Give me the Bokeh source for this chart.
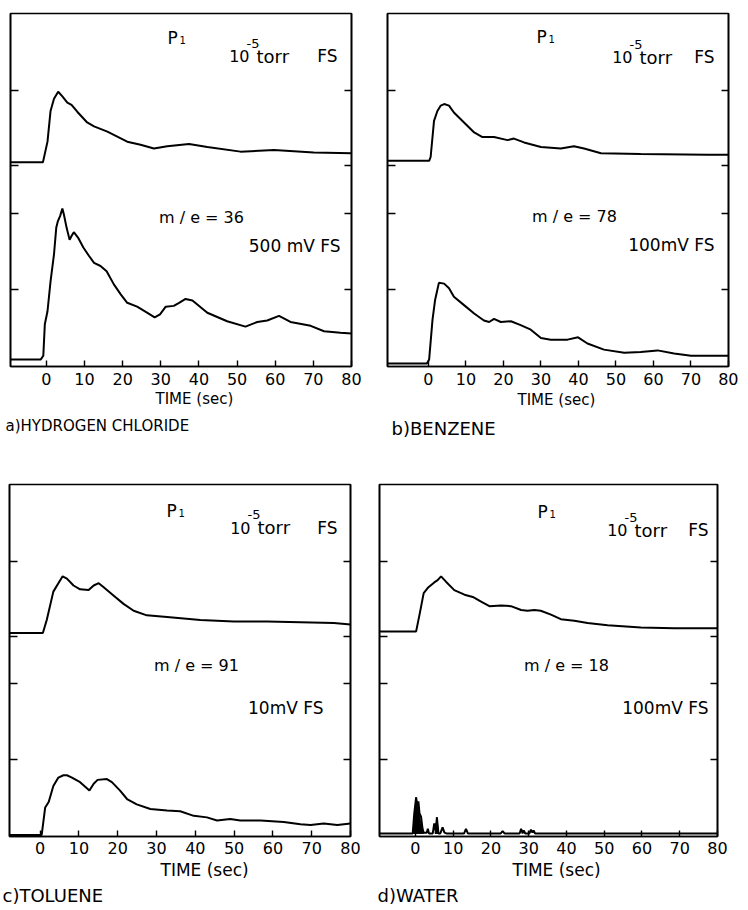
from bokeh.plotting import figure
from bokeh.models import Range1d, LinearAxis, FixedTicker, Label, Title
from bokeh.layouts import column, row
from bokeh.embed import file_html
from bokeh.resources import INLINE

FONT = "DejaVu Sans"

# ---------------- data (time in s, signal in chart divisions) ----------------
TIME_TICKS = [0, 10, 20, 30, 40, 50, 60, 70, 80]
SIGNAL_TICKS = [1.0, 2.0, 2.62, 3.6]

# a) hydrogen chloride
A_UP_T = [-9.4, -0.9, 0.3, 1.1, 2.0, 3.1, 4.2, 5.5, 6.6, 8.1, 10.7, 12.5, 16.0, 21.2, 24.7, 28.2, 31.7, 37.4, 42.2, 50.9, 59.7, 70.1, 80.0]
A_UP_V = [2.66, 2.66, 2.93, 3.33, 3.49, 3.58, 3.52, 3.44, 3.41, 3.32, 3.18, 3.13, 3.06, 2.93, 2.89, 2.84, 2.87, 2.90, 2.86, 2.80, 2.82, 2.79, 2.78]
A_LO_T = [-9.4, -1.5, -0.8, -0.4, 0.3, 1.1, 2.0, 2.6, 3.0, 3.6, 4.2, 4.6, 5.3, 6.1, 6.6, 7.2, 8.3, 9.7, 11.2, 12.5, 14.2, 15.8, 17.7, 19.5, 21.2, 23.8, 26.5, 28.4, 29.8, 31.3, 33.4, 34.8, 36.5, 38.3, 42.2, 47.4, 52.2, 55.3, 57.9, 61.0, 64.0, 69.3, 72.8, 77.1, 80.0]
A_LO_V = [0.09, 0.09, 0.14, 0.55, 0.72, 1.11, 1.46, 1.81, 1.89, 1.96, 2.06, 1.98, 1.81, 1.65, 1.70, 1.75, 1.68, 1.55, 1.44, 1.35, 1.31, 1.24, 1.07, 0.94, 0.83, 0.78, 0.70, 0.64, 0.68, 0.78, 0.79, 0.83, 0.88, 0.86, 0.70, 0.59, 0.52, 0.58, 0.60, 0.66, 0.58, 0.53, 0.46, 0.44, 0.43]

# b) benzene
B_UP_T = [-10.9, 0.2, 0.6, 1.5, 2.4, 3.3, 4.2, 5.5, 6.8, 9.5, 12.2, 14.4, 17.5, 21.1, 22.8, 25.5, 30.0, 35.3, 38.8, 41.5, 46.0, 56.6, 74.4, 80.0]
B_UP_V = [2.68, 2.68, 2.73, 3.20, 3.33, 3.40, 3.42, 3.40, 3.31, 3.18, 3.05, 2.99, 2.99, 2.95, 2.97, 2.92, 2.86, 2.84, 2.87, 2.84, 2.78, 2.77, 2.76, 2.76]
B_LO_T = [-10.9, -0.4, 0.2, 1.1, 1.8, 2.8, 4.2, 5.5, 6.8, 9.5, 12.2, 14.8, 16.2, 17.5, 19.3, 22.0, 24.6, 27.3, 30.0, 32.6, 37.1, 39.9, 42.4, 46.8, 52.2, 56.6, 61.1, 65.5, 70.0, 80.0]
B_LO_V = [0.04, 0.04, 0.09, 0.61, 0.87, 1.09, 1.08, 1.02, 0.91, 0.80, 0.69, 0.60, 0.58, 0.62, 0.58, 0.59, 0.54, 0.48, 0.37, 0.35, 0.35, 0.38, 0.30, 0.22, 0.18, 0.19, 0.21, 0.17, 0.14, 0.14]

# c) toluene
C_UP_T = [-7.9, 0.7, 1.7, 3.4, 4.7, 5.8, 6.9, 8.6, 10.3, 12.5, 13.8, 15.1, 16.3, 18.9, 21.5, 24.1, 27.5, 32.7, 41.3, 49.9, 58.5, 67.1, 75.7, 80.0]
C_UP_V = [2.66, 2.66, 2.83, 3.20, 3.31, 3.40, 3.37, 3.28, 3.23, 3.22, 3.28, 3.31, 3.26, 3.15, 3.04, 2.95, 2.89, 2.87, 2.83, 2.81, 2.81, 2.80, 2.79, 2.77]
C_LO_T = [-7.9, 0.4, 1.3, 2.2, 3.4, 4.7, 6.0, 6.9, 8.2, 10.3, 12.7, 13.8, 14.8, 17.2, 18.5, 20.6, 22.4, 24.9, 28.4, 32.7, 36.1, 39.6, 43.0, 45.6, 49.0, 51.6, 56.8, 62.8, 67.1, 69.7, 73.1, 76.6, 80.0]
C_LO_V = [0.02, 0.02, 0.38, 0.45, 0.66, 0.77, 0.80, 0.80, 0.77, 0.71, 0.60, 0.69, 0.74, 0.75, 0.71, 0.60, 0.49, 0.42, 0.36, 0.34, 0.33, 0.27, 0.25, 0.21, 0.23, 0.21, 0.21, 0.19, 0.16, 0.15, 0.17, 0.15, 0.17]

# d) water
D_UP_T = [-9.5, 0.2, 1.1, 2.2, 3.3, 5.0, 5.9, 6.8, 8.1, 10.3, 13.0, 15.2, 17.4, 19.6, 22.7, 25.3, 28.0, 29.7, 31.5, 33.2, 35.9, 38.5, 42.1, 45.6, 50.9, 59.7, 68.5, 80.0]
D_UP_V = [2.68, 2.68, 2.90, 3.18, 3.25, 3.32, 3.35, 3.40, 3.33, 3.22, 3.16, 3.13, 3.07, 3.01, 3.02, 3.01, 2.96, 2.95, 2.96, 2.95, 2.90, 2.84, 2.82, 2.79, 2.76, 2.73, 2.72, 2.72]
D_LO_T = [-9.5, -0.7, -0.3, 0.2, 0.5, 0.8, 1.1, 1.5, 1.9, 2.2, 3.0, 3.3, 3.6, 4.6, 5.0, 5.4, 5.7, 6.1, 6.6, 7.2, 7.7, 8.2, 12.9, 13.4, 13.9, 22.6, 23.1, 23.6, 27.6, 28.0, 28.4, 28.7, 29.1, 30.2, 30.6, 31.0, 31.3, 31.7, 80.0]
D_LO_V = [0.04, 0.04, 0.30, 0.51, 0.40, 0.46, 0.30, 0.26, 0.10, 0.05, 0.05, 0.10, 0.04, 0.04, 0.17, 0.07, 0.25, 0.04, 0.04, 0.12, 0.05, 0.04, 0.04, 0.10, 0.04, 0.04, 0.07, 0.04, 0.04, 0.10, 0.04, 0.08, 0.04, 0.04, 0.09, 0.05, 0.08, 0.04, 0.04]
D_SPIKE_T = [-0.6, 0.2, 0.6, 1.0, 1.4, 1.8, 2.2]
D_SPIKE_V = [0.04, 0.51, 0.40, 0.30, 0.18, 0.08, 0.04]
D_SPIKE2_T = [5.2, 5.7, 6.1]
D_SPIKE2_V = [0.04, 0.25, 0.04]

CAPTIONS = ["a)HYDROGEN CHLORIDE", "b)BENZENE", "c)TOLUENE", "d)WATER"]
MASS_LABELS = ["m / e = 36", "m / e = 78", "m / e = 91", "m / e = 18"]
SCALE_LABELS = ["500 mV FS", "100mV FS", "10mV FS", "100mV FS"]
AXIS_LABEL = "TIME (sec)"

YMAX = 4.6


def make_panel(xstart, up_t, up_v, lo_t, lo_v, caption, mass, scale, lay, txt):
    fw, fh = lay["fw"], lay["fh"]
    w = lay["bl"] + fw + lay["br"]
    h = lay["bt"] + fh + lay["bb"]
    p = figure(width=w, height=h,
               x_range=Range1d(xstart, 80), y_range=Range1d(0, YMAX),
               output_backend="svg", toolbar_location=None,
               min_border_left=lay["bl"], min_border_right=lay["br"],
               min_border_top=lay["bt"], min_border_bottom=lay["bb"])
    p.background_fill_color = "white"
    p.border_fill_color = "white"
    p.outline_line_color = "black"
    p.outline_line_width = 1.6
    p.xgrid.visible = False
    p.ygrid.visible = False

    kx = (80 - xstart) / fw      # data units per pixel
    ky = YMAX / fh

    # x axis
    xa = p.xaxis[0]
    xa.ticker = FixedTicker(ticks=TIME_TICKS)
    xa.major_tick_in = 6
    xa.major_tick_out = 0
    xa.minor_tick_line_color = None
    xa.major_tick_line_width = 1.4
    xa.axis_line_width = 1.6
    xa.major_label_text_font = FONT
    xa.major_label_text_font_size = "16px"
    xa.major_label_text_color = "black"
    xa.major_label_standoff = lay["tick_so"]

    blank = {t: "" for t in SIGNAL_TICKS}
    ya = p.yaxis[0]
    ya.ticker = FixedTicker(ticks=SIGNAL_TICKS)
    ya.major_tick_in = 8
    ya.major_tick_out = 0
    ya.minor_tick_line_color = None
    ya.major_tick_line_width = 1.4
    ya.axis_line_width = 1.6
    ya.major_label_overrides = blank
    ya.major_label_text_color = None
    ya.major_label_standoff = 0

    ra = LinearAxis(ticker=FixedTicker(ticks=SIGNAL_TICKS), major_tick_in=7, major_tick_out=0,
                    minor_tick_line_color=None, major_tick_line_width=1.4, axis_line_width=1.6,
                    major_label_overrides=blank, major_label_text_color=None,
                    major_label_standoff=0)
    p.add_layout(ra, "right")

    # axis title and panel caption below the x axis
    p.add_layout(Title(text=AXIS_LABEL, align="left", text_font=FONT,
                       text_font_size=lay["lab_fs"], text_font_style="normal", text_color="black",
                       offset=txt["time_dx"], standoff=lay["lab_so"]), "below")
    p.add_layout(Title(text=caption, align="left", text_font=FONT,
                       text_font_size=txt["cap_fs"], text_font_style="normal", text_color="black",
                       offset=txt["cap_dx"], standoff=lay["cap_so"]), "below")

    p.line(up_t, up_v, line_color="black", line_width=2)
    p.line(lo_t, lo_v, line_color="black", line_width=2)

    def lab(dx, dy, t, size, align="left"):
        p.add_layout(Label(x=xstart + dx * kx, y=dy * ky, text=t, text_font=FONT,
                           text_font_size=size, text_color="black",
                           text_baseline="alphabetic", text_align=align))

    lab(txt["P"][0], txt["P"][1], "P", "17px")
    lab(txt["P"][0] + 12, txt["P"][1] - 2, "1", "10px")
    lab(txt["ten"][0], txt["ten"][1], "10", "16px", "right")
    lab(txt["ten"][0] - 3, txt["ten"][1] + 13, "-5", "13px")
    lab(txt["ten"][0] + 7, txt["ten"][1], "torr", "18px")
    lab(txt["fs"], txt["ten"][1], "FS", "17px", "right")
    lab(txt["m"][0], txt["m"][1], mass, "16px", "center")
    lab(txt["s"][0], txt["s"][1], scale, "17px", "right")
    return p


top = dict(fw=341, fh=354, bb=81, tick_so=6, lab_fs="15px", lab_so=0, cap_so=15)
bot = dict(fh=352, bb=72, tick_so=5, lab_fs="17px", lab_so=3, cap_so=3)

pa = make_panel(-9.4, A_UP_T, A_UP_V, A_LO_T, A_LO_V, CAPTIONS[0], MASS_LABELS[0], SCALE_LABELS[0],
                dict(top, bl=10, br=26, bt=12),
                dict(P=(157, 329), ten=(239, 311), fs=327, m=(191, 149), s=(330, 121),
                     time_dx=145, cap_dx=-5, cap_fs="15px"))
pb = make_panel(-10.9, B_UP_T, B_UP_V, B_LO_T, B_LO_V, CAPTIONS[1], MASS_LABELS[1], SCALE_LABELS[1],
                dict(top, bl=10, br=10, bt=13, bb=80, lab_so=3, cap_so=11),
                dict(P=(149, 330), ten=(245, 310), fs=327, m=(187, 150), s=(327, 122),
                     time_dx=130, cap_dx=4, cap_fs="18px"))
pc = make_panel(-7.9, C_UP_T, C_UP_V, C_LO_T, C_LO_V, CAPTIONS[2], MASS_LABELS[2], SCALE_LABELS[2],
                dict(bot, fw=341, bl=9, br=27, bt=37),
                dict(P=(157, 326), ten=(241, 309), fs=328, m=(187, 171), s=(314, 129),
                     time_dx=151, cap_dx=-7, cap_fs="18px"))
pd = make_panel(-9.5, D_UP_T, D_UP_V, D_LO_T, D_LO_V, CAPTIONS[3], MASS_LABELS[3], SCALE_LABELS[3],
                dict(bot, fw=338, fh=353, bl=2, br=21, bt=36),
                dict(P=(158, 325), ten=(248, 307), fs=329, m=(187, 171), s=(329, 129),
                     time_dx=133, cap_dx=-2, cap_fs="18px"))
pd.patch(D_SPIKE_T, D_SPIKE_V, fill_color="black", line_color="black", line_width=1)
pd.patch(D_SPIKE2_T, D_SPIKE2_V, fill_color="black", line_color="black", line_width=1)

layout = column(row(pa, pb), row(pc, pd))
open("out.html", "w").write(file_html(layout, INLINE))
